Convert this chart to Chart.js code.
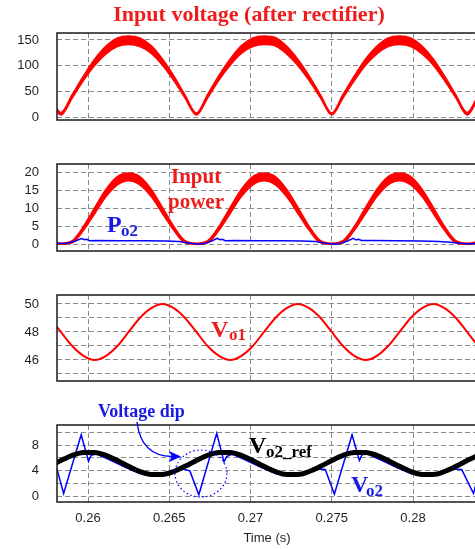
<!DOCTYPE html>
<html>
<head>
<meta charset="utf-8">
<script src="https://cdn.jsdelivr.net/npm/chart.js@4.4.0/dist/chart.umd.min.js"></script>
<style>
  html, body { margin: 0; padding: 0; background: #fff; overflow: hidden; }
  body { width: 475px; height: 549px; position: relative; }
  .panel { position: absolute; left: 0; width: 500px; }
</style>
</head>
<body>
<div class="panel" style="top:0;height:124px"><canvas id="vinChart"></canvas></div>
<div class="panel" style="top:124px;height:131px"><canvas id="pinChart"></canvas></div>
<div class="panel" style="top:255px;height:130px"><canvas id="vo1Chart"></canvas></div>
<div class="panel" style="top:385px;height:164px"><canvas id="vo2Chart"></canvas></div>
<script>
// ================= Data =================
const timeGrid = [0.25764, 0.25833, 0.25903, 0.25972, 0.26042, 0.26111, 0.26181, 0.26250, 0.26319, 0.26389,
  0.26458, 0.26528, 0.26597, 0.26667, 0.26736, 0.26806, 0.26875, 0.26944, 0.27014, 0.27083,
  0.27153, 0.27222, 0.27292, 0.27361, 0.27431, 0.27500, 0.27569, 0.27639, 0.27708, 0.27778,
  0.27847, 0.27917, 0.27986, 0.28056, 0.28125, 0.28194, 0.28264, 0.28333, 0.28403, 0.28472];

// input voltage band (switching ripple makes it thick)
const vinUpper = [44,
  9, 44, 80, 113, 138, 154, 158, 154, 139, 113, 80, 43,
  8, 44, 81, 113, 139, 154, 158, 155, 138, 112, 80, 43,
  8, 44, 80, 113, 138, 154, 158, 154, 138, 113, 80, 43,
  9, 44, 80];
const vinLower = [37,
  4, 37, 71, 101, 123, 137, 141, 137, 124, 101, 71, 37,
  4, 37, 72, 101, 124, 137, 141, 138, 123, 100, 71, 37,
  4, 37, 71, 101, 123, 137, 141, 137, 123, 101, 71, 37,
  4, 37, 71];

// input power band
const pinUpper = [1.0,
  0.3, 1.0, 5.0, 10.3, 15.4, 18.9, 19.9, 18.9, 15.4, 10.3, 5.0, 1.0,
  0.3, 1.0, 5.0, 10.3, 15.4, 18.9, 19.9, 18.9, 15.4, 10.3, 5.0, 1.0,
  0.3, 1.0, 5.0, 10.3, 15.4, 18.9, 19.9, 18.9, 15.4, 10.3, 5.0, 1.0,
  0.3, 1.0, 5.0];
const pinLower = [0.4,
  0, 0.4, 3.9, 8.6, 13.3, 16.6, 17.7, 16.6, 13.3, 8.6, 3.9, 0.4,
  0, 0.4, 3.9, 8.6, 13.3, 16.6, 17.7, 16.6, 13.3, 8.6, 3.9, 0.4,
  0, 0.4, 3.9, 8.6, 13.3, 16.6, 17.7, 16.6, 13.3, 8.6, 3.9, 0.4,
  0, 0.4, 3.9];

// output power Po2
const po2Time = [0.25790, 0.25853, 0.25890, 0.25925, 0.25960, 0.25978, 0.25992, 0.26010, 0.26050, 0.26200, 0.26350, 0.26480, 0.26560, 0.26600, 0.26640,
  0.26687, 0.26730, 0.26765, 0.26795, 0.26812, 0.26826, 0.26845, 0.26900, 0.27050, 0.27200, 0.27320, 0.27400, 0.27440, 0.27475,
  0.27520, 0.27565, 0.27600, 0.27632, 0.27650, 0.27664, 0.27684, 0.27750, 0.27900, 0.28050, 0.28160, 0.28230, 0.28290,
  0.28350, 0.28400, 0.28470];
const po2Vals = [0.3, 0.2, 0.5, 1.0, 1.6, 1.3, 1.4, 1.0, 1.1, 1.0, 1.0, 0.9, 0.8, 0.5, 0.2,
  0.0, 0.4, 1.0, 1.7, 1.3, 1.4, 1.0, 1.1, 1.0, 1.0, 0.9, 0.8, 0.5, 0.2,
  0.0, 0.4, 1.0, 1.7, 1.2, 1.4, 1.1, 1.1, 1.0, 0.9, 0.8, 0.6, 0.3,
  0.1, 0.3, 0.5];

// output voltage Vo1
const vo1Vals = [49.0,
  48.0, 47.0, 46.3, 46.0, 46.3, 47.0, 48.0, 49.0, 49.7, 50.0, 49.7, 49.0,
  48.0, 47.0, 46.3, 46.0, 46.3, 47.0, 48.0, 49.0, 49.7, 50.0, 49.7, 49.0,
  48.0, 47.0, 46.3, 46.0, 46.3, 47.0, 48.0, 49.0, 49.7, 50.0, 49.7, 49.0,
  48.0, 47.0, 46.3];

// Vo2 reference
const vrefVals = [4.7,
  5.6, 6.4, 6.85, 6.85, 6.4, 5.6, 4.7, 3.9, 3.45, 3.45, 3.9, 4.7,
  5.6, 6.4, 6.85, 6.85, 6.4, 5.6, 4.7, 3.9, 3.45, 3.45, 3.9, 4.7,
  5.6, 6.4, 6.85, 6.85, 6.4, 5.6, 4.7, 3.9, 3.45, 3.45, 3.9, 4.7,
  5.6, 6.4, 6.85];

// measured Vo2 with the dips
const vo2Time = [0.25790, 0.25800, 0.25850, 0.25958, 0.26003, 0.26019, 0.26053, 0.26143, 0.26233, 0.26323,
  0.26413, 0.26503, 0.26583, 0.26627, 0.26682, 0.26792, 0.26837, 0.26853, 0.26887, 0.26977,
  0.27067, 0.27157, 0.27247, 0.27337, 0.27417, 0.27460, 0.27516, 0.27625, 0.27670, 0.27686,
  0.27720, 0.27810, 0.27900, 0.27990, 0.28080, 0.28170, 0.28250, 0.28300, 0.28372, 0.28470];
const vo2Vals = [5.6, 5.1, 0.5, 9.6, 5.5, 6.4, 6.6, 5.6, 4.5, 3.55,
  3.15, 3.45, 4.3, 4.0, 0.3, 9.8, 5.4, 6.2, 6.6, 5.6,
  4.5, 3.55, 3.15, 3.45, 4.3, 4.2, 0.4, 9.6, 5.6, 6.5,
  6.6, 5.6, 4.5, 3.55, 3.15, 3.45, 4.3, 4.2, 0.5, 9.5];

const xTicks = [0.26, 0.265, 0.27, 0.275, 0.28];
const xTickLabels = ["0.26", "0.265", "0.27", "0.275", "0.28"];
const vinGrid = [0, 50, 100, 150];
const pinGrid = [0, 5, 10, 15, 20];
const vo1Grid = [45, 46, 47, 48, 49, 50];
const vo1Labels = [46, 48, 50];
const vo2Grid = [0, 2, 4, 6, 8, 10];
const vo2Labels = [0, 4, 8];

// ================= Styles =================
const RED = "#ff0000";
const BLUE = "#0000ff";
const RED_TXT = "#ee1c1c";
const BLUE_TXT = "#1a1ae6";
const GRID = "#8a8a8a";
const TICK = "#1e1e28";
const SERIF = "'Liberation Serif', 'Times New Roman', serif";
const X_MIN = 0.258092;
const X_MAX = 0.284738;

Chart.defaults.font.family = "'Liberation Sans', Arial, sans-serif";
Chart.defaults.font.size = 13;

const pts = (times, vals) => times.map((t, i) => ({ x: t, y: vals[i] }));

function line(times, vals, color, width, extra) {
  return Object.assign({
    data: pts(times, vals), borderColor: color, backgroundColor: color, borderWidth: width,
    pointRadius: 0, fill: false, cubicInterpolationMode: "monotone", clip: 0
  }, extra || {});
}

function scales(yMin, yMax, yGrid, yLabels, showX) {
  return {
    x: {
      type: "linear", min: X_MIN, max: X_MAX,
      afterBuildTicks: (s) => { s.ticks = xTicks.map((v) => ({ value: v })); },
      afterFit: (s) => { s.height = showX ? 47 : 0; s.paddingLeft = 0; s.paddingRight = 0; },
      grid: { color: GRID, lineWidth: 1, drawTicks: false },
      border: { display: false, dash: [5, 3] },
      ticks: { display: showX, padding: 9, color: TICK, autoSkip: false, maxRotation: 0,
        callback: (v, i) => xTickLabels[i] }
    },
    y: {
      min: yMin, max: yMax,
      afterBuildTicks: (s) => { s.ticks = yGrid.map((v) => ({ value: v })); },
      // fixed gutter; tick label overhang must not shrink the plot
      afterFit: (s) => { s.width = 57; s.paddingTop = 0; s.paddingBottom = 0; },
      grid: { color: GRID, lineWidth: 1, drawTicks: false },
      border: { display: false, dash: [5, 3] },
      ticks: { padding: 18, color: TICK, autoSkip: false,
        callback: (v) => (yLabels.includes(v) ? String(v) : "") }
    }
  };
}

// solid frame round each plot
const boxPlugin = {
  id: "plotBox",
  afterDatasetsDraw(chart) {
    const { ctx, chartArea: a } = chart;
    ctx.save();
    ctx.strokeStyle = "#1a1a1a";
    ctx.lineWidth = 1.5;
    ctx.strokeRect(a.left, a.top, a.right - a.left, a.bottom - a.top);
    ctx.restore();
  }
};

// text labels, given in page coordinates
function notesPlugin(top, notes, extra) {
  return {
    id: "notes",
    afterDraw(chart) {
      const ctx = chart.ctx;
      ctx.save();
      ctx.translate(0, -top);
      notes.forEach((n) => {
        ctx.font = n.font;
        ctx.fillStyle = n.color;
        ctx.textAlign = n.align || "left";
        ctx.textBaseline = "alphabetic";
        ctx.fillText(n.text, n.x, n.y);
      });
      if (extra) extra(ctx);
      ctx.restore();
    }
  };
}

function makeChart(id, datasets, scaleOpts, padding, plugins) {
  return new Chart(document.getElementById(id), {
    type: "line",
    data: { datasets },
    options: {
      responsive: true, maintainAspectRatio: false, animation: false, devicePixelRatio: 1,
      layout: { padding },
      plugins: { legend: { display: false }, tooltip: { enabled: false } },
      scales: scaleOpts
    },
    plugins: [boxPlugin].concat(plugins)
  });
}

// ================= Input voltage =================
makeChart("vinChart", [
  line(timeGrid, vinUpper, RED, 1.5, { fill: "+1" }),
  line(timeGrid, vinLower, RED, 1.5)
], scales(-5.8, 163.6, vinGrid, vinGrid, false), { top: 33, bottom: 4, left: 0, right: 10 }, [
  notesPlugin(0, [
    { text: "Input voltage (after rectifier)", x: 249, y: 21, font: "bold 22px " + SERIF, color: RED_TXT, align: "center" }
  ])
]);

// ================= Input power / Po2 =================
makeChart("pinChart", [
  line(po2Time, po2Vals, BLUE, 1.5, { cubicInterpolationMode: "default", tension: 0 }),
  line(timeGrid, pinUpper, RED, 1.5, { fill: "+1" }),
  line(timeGrid, pinLower, RED, 1.5)
], scales(-1.86, 22.4, pinGrid, pinGrid, false), { top: 40, bottom: 4, left: 0, right: 10 }, [
  notesPlugin(124, [
    { text: "Input", x: 171, y: 183, font: "bold 21px " + SERIF, color: RED_TXT },
    { text: "power", x: 168, y: 208, font: "bold 21px " + SERIF, color: RED_TXT },
    { text: "P", x: 107, y: 232, font: "bold 24px " + SERIF, color: BLUE_TXT },
    { text: "o2", x: 121, y: 236, font: "bold 17px " + SERIF, color: BLUE_TXT }
  ])
]);

// ================= Vo1 =================
makeChart("vo1Chart", [
  line(timeGrid, vo1Vals, RED, 2)
], scales(44.5, 50.64, vo1Grid, vo1Labels, false), { top: 40, bottom: 4, left: 0, right: 10 }, [
  notesPlugin(255, [
    { text: "V", x: 211, y: 337, font: "bold 24px " + SERIF, color: RED_TXT },
    { text: "o1", x: 229, y: 340, font: "bold 17px " + SERIF, color: RED_TXT }
  ])
]);

// ================= Vo2 and its reference =================
function dipMarker(ctx) {
  ctx.strokeStyle = BLUE;
  ctx.fillStyle = BLUE;
  ctx.lineWidth = 1.2;
  ctx.setLineDash([1.5, 2.5]);
  ctx.beginPath();
  ctx.ellipse(201, 473.5, 26, 23.5, 0, 0, Math.PI * 2);
  ctx.stroke();
  ctx.setLineDash([]);
  ctx.lineWidth = 1.4;
  ctx.beginPath();
  ctx.moveTo(137, 422);
  ctx.quadraticCurveTo(141, 456, 172, 456.5);
  ctx.stroke();
  ctx.beginPath();
  ctx.moveTo(181, 456.5);
  ctx.lineTo(169, 451);
  ctx.lineTo(172, 456.5);
  ctx.lineTo(169, 462);
  ctx.closePath();
  ctx.fill();
}

makeChart("vo2Chart", [
  line(timeGrid, vrefVals, "#000000", 5),
  line(vo2Time, vo2Vals, BLUE, 1.5, { cubicInterpolationMode: "default", tension: 0 })
], scales(-0.82, 11.1, vo2Grid, vo2Labels, true), { top: 40, bottom: 0, left: 0, right: 10 }, [
  notesPlugin(385, [
    { text: "Voltage dip", x: 98, y: 417, font: "bold 18px " + SERIF, color: BLUE_TXT },
    { text: "V", x: 249, y: 453, font: "bold 24px " + SERIF, color: "#000" },
    { text: "o2_ref", x: 266, y: 457, font: "bold 17px " + SERIF, color: "#000" },
    { text: "V", x: 351, y: 492, font: "bold 24px " + SERIF, color: BLUE_TXT },
    { text: "o2", x: 366, y: 496, font: "bold 17px " + SERIF, color: BLUE_TXT },
    { text: "Time (s)", x: 267, y: 542, font: "13px 'Liberation Sans', Arial, sans-serif", color: TICK, align: "center" }
  ], dipMarker)
]);
</script>
</body>
</html>
